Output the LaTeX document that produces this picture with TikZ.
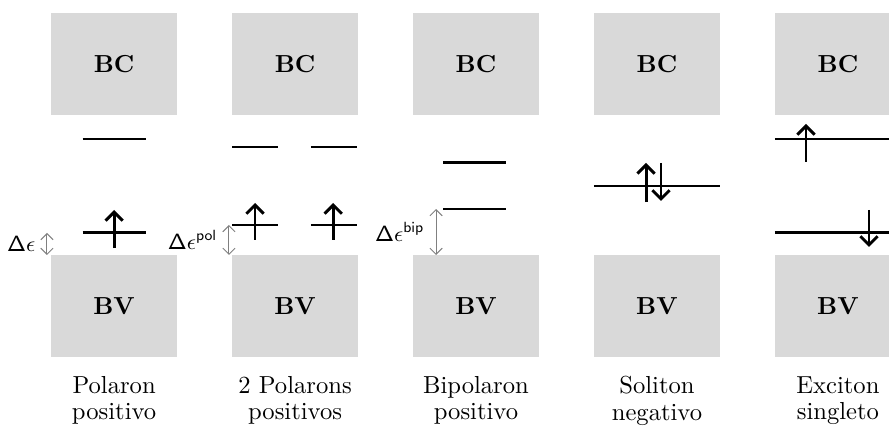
\documentclass[tikz,border=0pt]{standalone}
\usepackage{tikz}
\usepackage{xcolor}
\usetikzlibrary{positioning,arrows.meta}

\begin{document}
\begin{tikzpicture}[
    band/.style={fill=black!15, minimum width=1.8cm, minimum height=1.457cm, inner sep=0pt, font=\bfseries},
    level/.style={line width=1.2pt},
    spin/.style={line width=1.2pt, -{Straight Barb[length=3.5pt, width=7pt]}},
    gap/.style={gray, {Straight Barb[length=2.5pt, width=5pt]}-{Straight Barb[length=2.5pt, width=5pt]}},
    gaplabel/.style={black, font=\small, inner sep=4.5pt},
    caption/.style={align=center, font={\fontsize{10}{10.7}\selectfont}}
]
    \useasboundingbox (0,0) rectangle (12.7,6.157);
    \clip (0,0) rectangle (12.7,6.157);

    % Bands
    \node[band] (bc1) at (1.63,5.243) {BC};
    \node[band] (bc2) at (4.215,5.243) {BC};
    \node[band] (bc3) at (6.80,5.243) {BC};
    \node[band] (bc4) at (9.385,5.243) {BC};
    \node[band] (bc5) at (11.97,5.243) {BC};
    \node[band] (bv1) at (1.63,1.779) {BV};
    \node[band] (bv2) at (4.215,1.779) {BV};
    \node[band] (bv3) at (6.80,1.779) {BV};
    \node[band] (bv4) at (9.385,1.779) {BV};
    \node[band] (bv5) at (11.97,1.779) {BV};

    % Polaron positivo
    \draw[level] (1.18,4.171) -- (2.08,4.171);
    \draw[level] (1.18,2.829) -- (2.08,2.829);
    \draw[spin] (1.63,2.614) -- (1.63,3.157);
    \coordinate (g1) at (0.671,2.829);
    \draw[gap] (g1) -- (g1 |- bv1.north) node[midway, left, gaplabel] (d1) {$\mathsf{\Delta}\epsilon$};

    % 2 Polarons positivos
    \draw[level] (3.315,4.057) -- (3.97,4.057);
    \draw[level] (4.44,4.057) -- (5.10,4.057);
    \draw[level] (3.315,2.943) -- (3.97,2.943);
    \draw[level] (4.44,2.943) -- (5.10,2.943);
    \draw[spin] (3.643,2.729) -- (3.643,3.257);
    \draw[spin] (4.76,2.729) -- (4.76,3.257);
    \coordinate (g2) at (3.271,2.943);
    \draw[gap] (g2) -- (g2 |- bv2.north) node[midway, left, gaplabel] (d2) {$\mathsf{\Delta}\epsilon^{\mathsf{pol}}$};

    % Bipolaron positivo
    \draw[level] (6.33,3.829) -- (7.23,3.829);
    \draw[level] (6.33,3.171) -- (7.23,3.171);
    \coordinate (g3) at (6.229,3.171);
    \draw[gap] (g3) -- (g3 |- bv3.north) node[midway, left, gaplabel] (d3) {$\mathsf{\Delta}\epsilon^{\mathsf{bip}}$};

    % Soliton negativo
    \draw[level] (8.485,3.5) -- (10.285,3.5);
    \draw[spin] (9.229,3.271) -- (9.229,3.829);
    \draw[spin] (9.443,3.829) -- (9.443,3.286);

    % Exciton singleto
    \draw[level] (11.07,4.171) -- (12.87,4.171);
    \draw[level] (11.07,2.829) -- (12.87,2.829);
    \draw[spin] (11.514,3.843) -- (11.514,4.386);
    \draw[spin] (12.414,3.157) -- (12.414,2.629);

    % Labels
    \node[caption, below=4pt of bv1] (lab1) {Polaron\\positivo};
    \node[caption, below=4pt of bv2] (lab2) {2 Polarons\\positivos};
    \node[caption, below=4pt of bv3] (lab3) {Bipolaron\\positivo};
    \node[caption, below=4pt of bv4] (lab4) {Soliton\\negativo};
    \node[caption, below=4pt of bv5] (lab5) {Exciton\\singleto};
\end{tikzpicture}
\end{document}
